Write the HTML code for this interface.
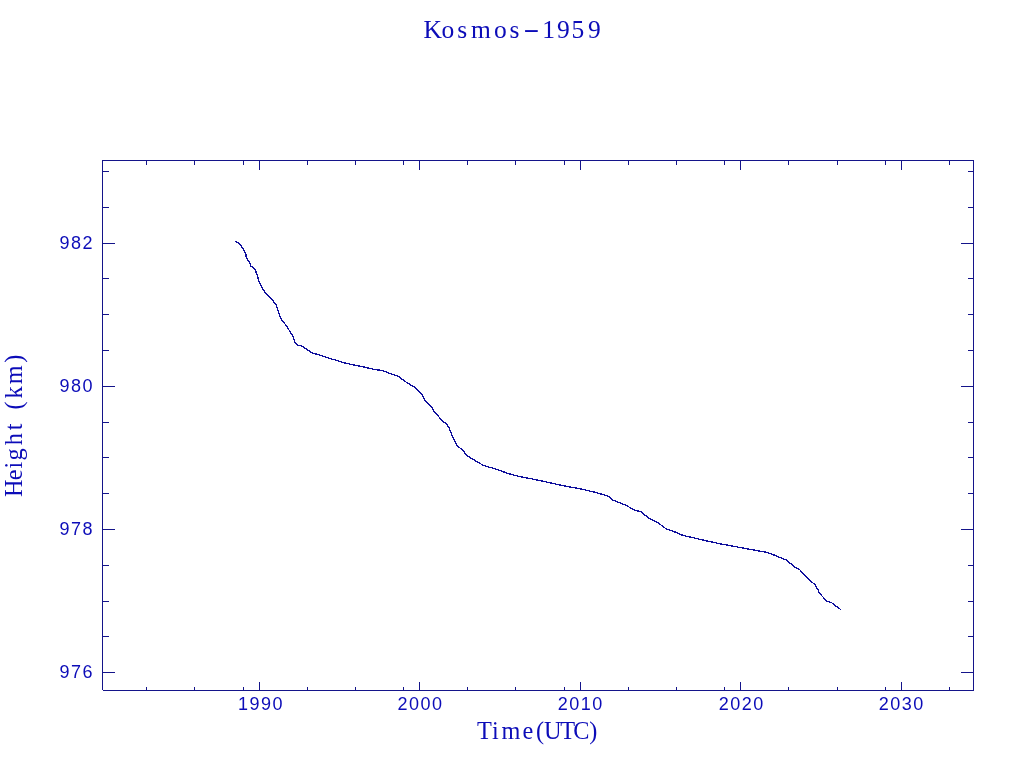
<!DOCTYPE html>
<html lang="en">
<head>
<meta charset="utf-8">
<title>Kosmos-1959</title>
<style>
html,body{margin:0;padding:0;background:#fff;}
body{width:1024px;height:768px;overflow:hidden;}
svg{display:block;}
.fr rect{fill:#14148a;shape-rendering:crispEdges;}
.tk{font-family:"Liberation Sans",sans-serif;font-size:18px;fill:#0c0cb8;letter-spacing:1.5px;}
.lb{font-family:"Liberation Serif",serif;font-size:24.3px;fill:#0c0cb8;}
.ti{font-family:"Liberation Serif",serif;font-size:25.5px;fill:#0c0cb8;}
.cv{fill:none;stroke:#0e0e9c;stroke-width:1.33;stroke-linejoin:round;shape-rendering:crispEdges;}
</style>
</head>
<body>
<svg width="1024" height="768" viewBox="0 0 1024 768">
<rect width="1024" height="768" fill="#ffffff"/>
<g class="fr">
<rect x="102" y="160" width="872" height="1"/>
<rect x="103" y="690" width="871" height="1"/>
<rect x="102" y="160" width="1" height="530"/>
<rect x="973" y="160" width="1" height="531"/>
<rect x="146" y="161" width="1" height="4"/>
<rect x="146" y="687" width="1" height="3"/>
<rect x="194" y="161" width="1" height="4"/>
<rect x="194" y="687" width="1" height="3"/>
<rect x="243" y="161" width="1" height="4"/>
<rect x="243" y="687" width="1" height="3"/>
<rect x="307" y="161" width="1" height="4"/>
<rect x="307" y="687" width="1" height="3"/>
<rect x="355" y="161" width="1" height="4"/>
<rect x="355" y="687" width="1" height="3"/>
<rect x="403" y="161" width="1" height="4"/>
<rect x="403" y="687" width="1" height="3"/>
<rect x="467" y="161" width="1" height="4"/>
<rect x="467" y="687" width="1" height="3"/>
<rect x="515" y="161" width="1" height="4"/>
<rect x="515" y="687" width="1" height="3"/>
<rect x="564" y="161" width="1" height="4"/>
<rect x="564" y="687" width="1" height="3"/>
<rect x="628" y="161" width="1" height="4"/>
<rect x="628" y="687" width="1" height="3"/>
<rect x="676" y="161" width="1" height="4"/>
<rect x="676" y="687" width="1" height="3"/>
<rect x="724" y="161" width="1" height="4"/>
<rect x="724" y="687" width="1" height="3"/>
<rect x="788" y="161" width="1" height="4"/>
<rect x="788" y="687" width="1" height="3"/>
<rect x="837" y="161" width="1" height="4"/>
<rect x="837" y="687" width="1" height="3"/>
<rect x="885" y="161" width="1" height="4"/>
<rect x="885" y="687" width="1" height="3"/>
<rect x="949" y="161" width="1" height="4"/>
<rect x="949" y="687" width="1" height="3"/>
<rect x="259" y="161" width="1" height="9"/>
<rect x="259" y="682" width="1" height="8"/>
<rect x="419" y="161" width="1" height="9"/>
<rect x="419" y="682" width="1" height="8"/>
<rect x="580" y="161" width="1" height="9"/>
<rect x="580" y="682" width="1" height="8"/>
<rect x="740" y="161" width="1" height="9"/>
<rect x="740" y="682" width="1" height="8"/>
<rect x="901" y="161" width="1" height="9"/>
<rect x="901" y="682" width="1" height="8"/>
<rect x="103" y="171" width="6" height="1"/>
<rect x="968" y="171" width="5" height="1"/>
<rect x="103" y="207" width="6" height="1"/>
<rect x="968" y="207" width="5" height="1"/>
<rect x="103" y="278" width="6" height="1"/>
<rect x="968" y="278" width="5" height="1"/>
<rect x="103" y="314" width="6" height="1"/>
<rect x="968" y="314" width="5" height="1"/>
<rect x="103" y="350" width="6" height="1"/>
<rect x="968" y="350" width="5" height="1"/>
<rect x="103" y="422" width="6" height="1"/>
<rect x="968" y="422" width="5" height="1"/>
<rect x="103" y="457" width="6" height="1"/>
<rect x="968" y="457" width="5" height="1"/>
<rect x="103" y="493" width="6" height="1"/>
<rect x="968" y="493" width="5" height="1"/>
<rect x="103" y="565" width="6" height="1"/>
<rect x="968" y="565" width="5" height="1"/>
<rect x="103" y="601" width="6" height="1"/>
<rect x="968" y="601" width="5" height="1"/>
<rect x="103" y="636" width="6" height="1"/>
<rect x="968" y="636" width="5" height="1"/>
<rect x="103" y="243" width="12" height="1"/>
<rect x="961" y="243" width="12" height="1"/>
<rect x="103" y="386" width="12" height="1"/>
<rect x="961" y="386" width="12" height="1"/>
<rect x="103" y="529" width="12" height="1"/>
<rect x="961" y="529" width="12" height="1"/>
<rect x="103" y="672" width="12" height="1"/>
<rect x="961" y="672" width="12" height="1"/>
</g>
<polyline class="cv" points="235.5,241.4 239.25,243.7 243.3,248.7 245.8,254 246.4,258.1 250.2,263.4 250.8,265.9 254.6,268.7 257.4,275.25 258.9,281.5 262.75,288.75 265.9,293.75 271.5,298.75 276.5,305.5 279.3,314.5 280.6,318.3 286.2,325.5 292.75,336 295.25,342.9 297.75,345.1 302.75,346.25 307.1,349.75 312.75,353.25 319,354.75 326.5,357.5 337.75,360.75 345.25,363.1 354,365 364,367 372.75,369.1 382.75,370.7 388.7,373 394.75,375 399.1,376.9 404.75,381.25 414.1,386.9 422.25,394.4 424.75,400.6 432.25,407.5 434.1,411.9 438.5,416.25 441.4,420.5 446.7,423.9 449.1,428.1 450.6,431.9 456.25,444.4 458.75,446.9 463.1,450.6 466.9,455.6 476.25,461.25 483.75,465.6 495,468.75 508.75,473.75 521.25,476.9 531.25,478.75 550,482.75 557.25,484.4 569.75,486.9 581,489 593.5,491.9 607.9,496 612.9,500 624.75,504.75 634.75,510 641.6,512.1 648.5,518.1 658.5,523.1 666,528.75 674.75,531.9 683.2,535.5 694.75,538.1 707.25,541 719.75,543.75 732.25,546 744.75,548.4 757.25,550.6 767.5,552.5 776.1,555.8 786.1,560 795,567.1 800,570 805,575.4 810.6,581.25 815,584.4 818.1,590 818.75,592.5 824.4,598.5 826.9,601.25 831.9,602.9 836.25,606.25 840.6,609.4"/>
<text class="ti" y="38"><tspan x="423.41 441.62 457.13 470.96 494.08 509.58">Kosmos</tspan><tspan x="523.19" dy="-1.5" textLength="16.28" lengthAdjust="spacingAndGlyphs">-</tspan><tspan dy="1.5" x="542.22 556.89 571.38 588.11">1959</tspan></text>
<text class="tk" x="260.95" y="710" text-anchor="middle">1990</text>
<text class="tk" x="420.55" y="710" text-anchor="middle">2000</text>
<text class="tk" x="580.75" y="710" text-anchor="middle">2010</text>
<text class="tk" x="741.75" y="710" text-anchor="middle">2020</text>
<text class="tk" x="901.85" y="710" text-anchor="middle">2030</text>
<text class="tk" x="94.1" y="248.5" text-anchor="end">982</text>
<text class="tk" x="94.1" y="391.5" text-anchor="end">980</text>
<text class="tk" x="94.1" y="534.5" text-anchor="end">978</text>
<text class="tk" x="94.1" y="677.5" text-anchor="end">976</text>
<text class="lb" y="739" x="477.11 492.0 501.43 522.6 535.91 543.93 560.16 573.32 589.2">Time(UTC)</text>
<text class="lb" transform="rotate(-90)" y="22" x="-497.12 -480.15 -468.5 -460.47 -445.28 -430.17 -422.69 -409.39 -398.51 -384.22 -362.65">Height (km)</text>
</svg>
</body>
</html>
